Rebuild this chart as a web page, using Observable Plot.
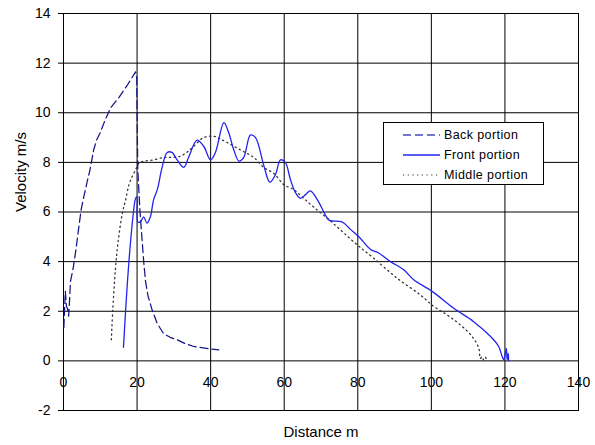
<!DOCTYPE html>
<html>
<head>
<meta charset="utf-8">
<script src="https://cdn.jsdelivr.net/npm/d3@7"></script>
<script src="https://cdn.jsdelivr.net/npm/@observablehq/plot@0.6"></script>
<style>
  body { margin: 0; background: #fff; }
  #wrap { position: relative; width: 595px; height: 445px; font-family: Arial, "Liberation Sans", sans-serif; }
  #legend { position: absolute; left: 383px; top: 122px; width: 159px; height: 61px; border: 1px solid #000; background: #fff; }
  .row { position: absolute; left: 0; height: 20px; display: flex; align-items: center; font-size: 12.5px; letter-spacing: 0.4px; color: #000; }
  .row svg { margin-left: 19px; margin-right: 4px; }
</style>
</head>
<body>
<div id="wrap"></div>
<script>
const xTicks = [0, 20, 40, 60, 80, 100, 120, 140];
const yTicks = [-2, 0, 2, 4, 6, 8, 10, 12, 14];

const seriesNames = ["Back portion", "Front portion", "Middle portion"];

const backX = [0.1,0.3,0.5,0.8,1.1,1.4,1.6,1.9,2.7,3.4,4.0,4.8,5.5,6.4,7.2,8.2,9.0,10.0,11.3,12.8,15.0,17.3,19.6,19.9,20.0,20.2,20.8,21.3,21.8,22.3,23.0,24.1,25.5,27.2,29.0,30.9,33.0,35.4,38.0,40.0,42.2];
const backY = [1.35,2.1,2.8,2.2,2.1,1.8,2.3,3.2,3.8,4.5,5.2,6.1,6.6,7.2,7.7,8.5,8.9,9.2,9.7,10.2,10.6,11.1,11.65,11.4,10.0,7.7,6.0,5.0,4.0,3.2,2.6,2.05,1.5,1.1,0.95,0.85,0.7,0.58,0.52,0.48,0.44];

const frontX = [16.3,17.3,18.2,19.1,19.5,19.8,20.0,20.2,20.9,21.8,22.7,23.6,24.5,25.5,26.8,28.2,29.5,30.9,32.7,34.0,36.3,38.1,40.0,41.3,43.6,44.9,46.3,47.7,49.0,50.8,52.2,54.4,56.1,57.6,59.0,60.3,61.7,63.0,64.4,65.8,67.1,69.0,71.7,72.5,75.7,78.0,80.3,83.4,85.7,88.9,92.5,95.2,100.2,106.1,111.5,116.1,118.3,119.2,119.7,120.1,120.4,120.6,120.9,121.0];
const frontY = [0.55,3.0,4.75,6.1,6.5,6.6,6.6,5.6,5.6,5.8,5.55,5.8,6.5,6.9,7.8,8.4,8.4,8.1,7.8,8.2,8.9,8.65,8.1,8.4,9.6,9.2,8.5,8.05,8.2,9.1,9.0,7.9,7.2,7.5,8.1,8.0,7.3,6.8,6.55,6.7,6.85,6.5,5.75,5.65,5.6,5.3,5.0,4.5,4.35,4.0,3.67,3.27,2.8,2.12,1.58,0.98,0.58,0.2,0.05,0.3,0.5,0.05,0.3,0.0];

const middleX = [13.0,13.4,14.1,14.8,16.0,16.9,17.8,18.6,19.6,20.5,22.0,24.5,27.3,29.5,31.8,33.5,35.4,38.1,40.9,42.5,44.5,48.1,51.7,54.4,57.2,59.9,62.6,65.3,68.0,71.7,75.5,79.8,84.3,90.7,97.0,100.7,104.3,107.9,111.1,112.9,113.3,113.8,114.2,114.7,115.0];
const middleY = [0.85,2.05,3.67,4.75,5.95,6.5,7.1,7.4,7.7,7.97,8.05,8.1,8.2,8.2,8.25,8.4,8.65,9.0,9.05,8.95,8.8,8.5,8.2,7.8,7.55,7.1,6.9,6.55,6.2,5.75,5.25,4.68,4.14,3.33,2.66,2.19,1.85,1.45,0.98,0.51,0.1,0.17,0.04,0.15,0.02];

const colors = ["#15158a", "#2323f0", "#333333"];
const dashes = ["8,4", null, "1.2,3.5"];

const toRows = (xs, ys) => xs.map((x, i) => ({x, y: ys[i]}));
const back = toRows(backX, backY);
const front = toRows(frontX, frontY);
const middle = toRows(middleX, middleY);

const font = 'Arial, "Liberation Sans", sans-serif';

const chart = Plot.plot({
  width: 595,
  height: 445,
  marginLeft: 63,
  marginRight: 17,
  marginTop: 13,
  marginBottom: 35,
  style: {fontFamily: font, fontSize: "14px", background: "#fff", color: "#000"},
  x: {domain: [0, 140], axis: null},
  y: {domain: [-2, 14], axis: null},
  marks: [
    Plot.gridX(xTicks, {stroke: "#000", strokeOpacity: 1, strokeWidth: 1}),
    Plot.gridY(yTicks, {stroke: "#000", strokeOpacity: 1, strokeWidth: 1}),
    Plot.frame({stroke: "#000", strokeWidth: 1}),
    Plot.axisY(yTicks, {tickSize: 5, tickPadding: 8, tickFormat: d => String(d), label: null, fontSize: 14}),
    Plot.text(xTicks, {x: d => d, y: () => 0, dy: 22, text: d => String(d), fontSize: 14}),
    Plot.text(["Distance m"], {frameAnchor: "bottom", dy: 26, fontSize: 15, letterSpacing: "0.5px"}),
    Plot.text(["Velocity m/s"], {frameAnchor: "left", dx: -42, rotate: -90, fontSize: 15}),
    Plot.line(middle, {x: "x", y: "y", stroke: colors[2], strokeWidth: 1.3, strokeDasharray: dashes[2], curve: "catmull-rom"}),
    Plot.line(back, {x: "x", y: "y", stroke: colors[0], strokeWidth: 1.25, strokeDasharray: dashes[0]}),
    Plot.line(front, {x: "x", y: "y", stroke: colors[1], strokeWidth: 1.3, curve: "catmull-rom"})
  ]
});

const wrap = document.getElementById("wrap");
wrap.appendChild(chart);

const legend = document.createElement("div");
legend.id = "legend";
seriesNames.forEach((name, i) => {
  const row = document.createElement("div");
  row.className = "row";
  row.style.top = (2 + i * 20) + "px";
  const sw = d3.create("svg").attr("width", 37).attr("height", 6);
  sw.append("line").attr("x1", 0).attr("x2", 37).attr("y1", 3).attr("y2", 3)
    .attr("stroke", i === 0 ? "#4848c0" : colors[i])
    .attr("stroke-width", i === 2 ? 1.2 : 1.5)
    .attr("stroke-dasharray", dashes[i]);
  row.appendChild(sw.node());
  const t = document.createElement("span");
  t.textContent = name;
  row.appendChild(t);
  legend.appendChild(row);
});
wrap.appendChild(legend);
</script>
</body>
</html>
